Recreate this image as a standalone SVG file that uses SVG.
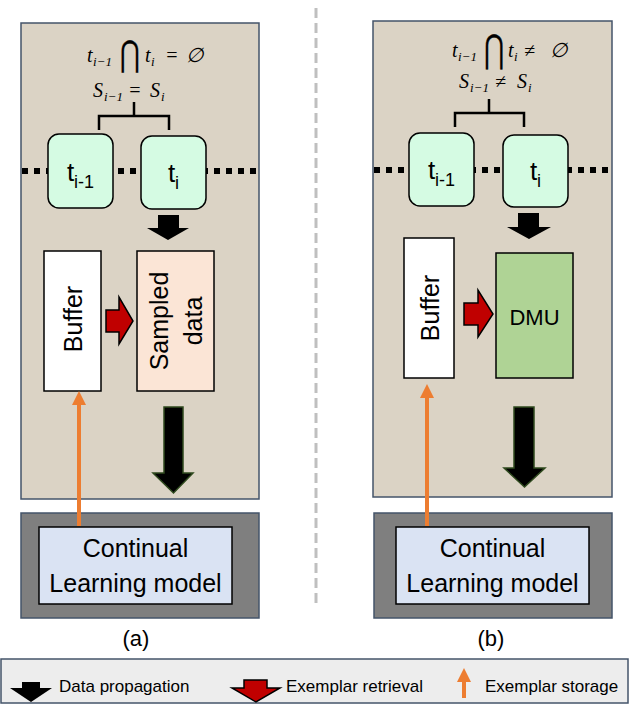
<svg xmlns="http://www.w3.org/2000/svg" width="629" height="704" viewBox="0 0 629 704">
<style>
.panel{fill:#DBD3C5;stroke:#44546A;stroke-width:1.5}
.node{fill:#D5FBE3;stroke:#000;stroke-width:1.5}
.box{stroke:#000;stroke-width:1.5}
.dots{stroke:#000;stroke-width:6;stroke-dasharray:6 6;fill:none}
.brk{stroke:#000;stroke-width:2.5;fill:none}
.blk{fill:#000}
.blk2{fill:#000;stroke:#2F4A1E;stroke-width:1.5}
.red{fill:#C00000;stroke:#000;stroke-width:1.5}
.org{stroke:#ED7D31;stroke-width:4;fill:none}
.orgh{fill:#ED7D31}
.sans{font-family:"Liberation Sans",Arial,sans-serif;fill:#000}
.math{font-family:"Liberation Serif","DejaVu Serif",serif;font-style:italic;fill:#000;font-size:20px}
.sub{font-size:13px}
.op{font-family:"DejaVu Sans",sans-serif;font-size:30px;fill:#000;stroke:#000;stroke-width:0.4}
.cl{fill:#7F7F7F;stroke:#44546A;stroke-width:1.5}
.cli{fill:#DAE3F3;stroke:#000;stroke-width:1.5}
</style>

<g id="divider"><line x1="316" y1="8" x2="316" y2="608" stroke="#BFBFBF" stroke-width="3" stroke-dasharray="10 5"/></g>

<!-- Panel A -->
<g id="panel-a"><rect class="panel" x="21" y="23" width="238" height="476"/></g>
<g id="formula-a">
  <text class="math" x="87" y="62">t</text><text class="math sub" x="93" y="66">i−1</text>
  <text class="op" text-anchor="middle" transform="translate(130,66) scale(0.8,1.18)">⋂</text>
  <text class="math" x="145" y="62">t</text><text class="math sub" x="151" y="66">i</text>
  <text class="math" x="165" y="62">=</text>
  <text class="math" x="186" y="62">∅</text>
  <text class="math" x="93" y="97">S</text><text class="math sub" x="104" y="101">i−1</text>
  <text class="math" x="128" y="97">=</text>
  <text class="math" x="150" y="97">S</text><text class="math sub" x="161" y="101">i</text>
</g>
<g id="dots-a"><line class="dots" x1="22" y1="171" x2="258" y2="171"/></g>
<g id="node-a-tprev"><rect class="node" x="48" y="134" width="65" height="74" rx="11"/>
  <text class="sans" x="80.5" y="181" font-size="26" text-anchor="middle">t<tspan font-size="18" dy="7">i-1</tspan></text></g>
<g id="node-a-ti"><rect class="node" x="141" y="136" width="65" height="73" rx="11"/>
  <text class="sans" x="173.5" y="182" font-size="26" text-anchor="middle">t<tspan font-size="18" dy="7">i</tspan></text></g>
<g id="buffer-a"><rect class="box" fill="#FFFFFF" x="44" y="251" width="57" height="140"/>
  <text class="sans" font-size="25" text-anchor="middle" transform="translate(82,319) rotate(-90)">Buffer</text></g>
<g id="sampled-a"><rect class="box" fill="#FBE5D6" x="137" y="251" width="77" height="140"/>
  <text class="sans" font-size="25" text-anchor="middle" transform="translate(168,321) rotate(-90)">Sampled</text>
  <text class="sans" font-size="25" text-anchor="middle" transform="translate(202,321) rotate(-90)">data</text></g>
<g id="cl-a"><rect class="cl" x="21" y="513" width="238" height="105"/>
  <rect class="cli" x="39" y="527" width="193" height="77"/>
  <text class="sans" font-size="25" text-anchor="middle" x="135.5" y="557">Continual</text>
  <text class="sans" font-size="25" text-anchor="middle" x="135.5" y="592">Learning model</text></g>
<text class="sans" font-size="22" text-anchor="middle" x="136" y="646">(a)</text>

<!-- Panel B -->
<g id="panel-b"><rect class="panel" x="373" y="21" width="239" height="476"/></g>
<g id="formula-b">
  <text class="math" x="452" y="57">t</text><text class="math sub" x="458" y="61">i−1</text>
  <text class="op" text-anchor="middle" transform="translate(494,61.5) scale(0.8,1.28)">⋂</text>
  <text class="math" x="508" y="57">t</text><text class="math sub" x="514" y="61">i</text>
  <text class="math" x="524" y="57">≠</text>
  <text class="math" x="550" y="57">∅</text>
  <text class="math" x="459" y="88">S</text><text class="math sub" x="470" y="92">i−1</text>
  <text class="math" x="495" y="88">≠</text>
  <text class="math" x="517" y="88">S</text><text class="math sub" x="528" y="92">i</text>
</g>
<g id="dots-b"><line class="dots" x1="374" y1="170" x2="611" y2="170"/></g>
<g id="node-b-tprev"><rect class="node" x="409" y="133" width="65" height="73" rx="11"/>
  <text class="sans" x="441.5" y="179" font-size="26" text-anchor="middle">t<tspan font-size="18" dy="7">i-1</tspan></text></g>
<g id="node-b-ti"><rect class="node" x="503" y="135" width="65" height="72" rx="11"/>
  <text class="sans" x="535.5" y="180" font-size="26" text-anchor="middle">t<tspan font-size="18" dy="7">i</tspan></text></g>
<g id="buffer-b"><rect class="box" fill="#FFFFFF" x="404" y="238" width="50" height="140"/>
  <text class="sans" font-size="25" text-anchor="middle" transform="translate(439,308) rotate(-90)">Buffer</text></g>
<g id="dmu-b"><rect class="box" fill="#AFD395" x="496" y="253" width="77" height="125"/>
  <text class="sans" font-size="22" text-anchor="middle" x="534.5" y="325">DMU</text></g>
<g id="cl-b"><rect class="cl" x="374" y="513" width="238" height="105"/>
  <rect class="cli" x="396" y="527" width="193" height="77"/>
  <text class="sans" font-size="25" text-anchor="middle" x="492.5" y="557">Continual</text>
  <text class="sans" font-size="25" text-anchor="middle" x="492.5" y="592">Learning model</text></g>
<text class="sans" font-size="22" text-anchor="middle" x="491" y="646">(b)</text>

<!-- Connectors -->
<g id="connectors">
  <path class="brk" d="M134,102 V116 M99,130 V116 H169 V130"/>
  <path class="brk" d="M489,99 V113 M455,127 V113 H524 V127"/>
  <polygon class="blk" points="158,215 179,215 179,228 189,228 168,240 147,228 158,228"/>
  <polygon class="blk" points="518,213 539,213 539,227 551,227 529,239 507,227 518,227"/>
  <polygon class="red" points="106,310 119,310 119,297 133,321 119,344 119,332 106,332"/>
  <polygon class="red" points="464,303 478,303 478,290 493,314 478,337 478,325 464,325"/>
  <polygon class="blk2" points="164,407 183,407 183,473 193,473 173.5,493 153,473 164,473"/>
  <polygon class="blk2" points="514,407 534,407 534,468 545,468 524.5,487 504,468 514,468"/>
  <line class="org" x1="79" y1="526" x2="79" y2="403"/>
  <polygon class="orgh" points="72,405 86,405 79,391"/>
  <line class="org" x1="427" y1="526" x2="427" y2="396"/>
  <polygon class="orgh" points="420,398 434,398 427,384"/>
</g>

<!-- Legend -->
<g id="legend">
  <rect x="1" y="659" width="627" height="44" fill="#EDEDED" stroke="#44546A" stroke-width="1.5"/>
  <polygon class="blk" points="22,682 40,682 40,688 52,688 31,702 10,688 22,688"/>
  <text class="sans" font-size="17" x="59" y="692">Data propagation</text>
  <polygon class="red" points="244,680 267,680 267,688 280,688 256,702 232,688 244,688"/>
  <text class="sans" font-size="17" x="286" y="692">Exemplar retrieval</text>
  <line class="org" x1="464" y1="698" x2="464" y2="680"/>
  <polygon class="orgh" points="457,682 471,682 464,668"/>
  <text class="sans" font-size="17" x="485" y="692">Exemplar storage</text>
</g>
</svg>
